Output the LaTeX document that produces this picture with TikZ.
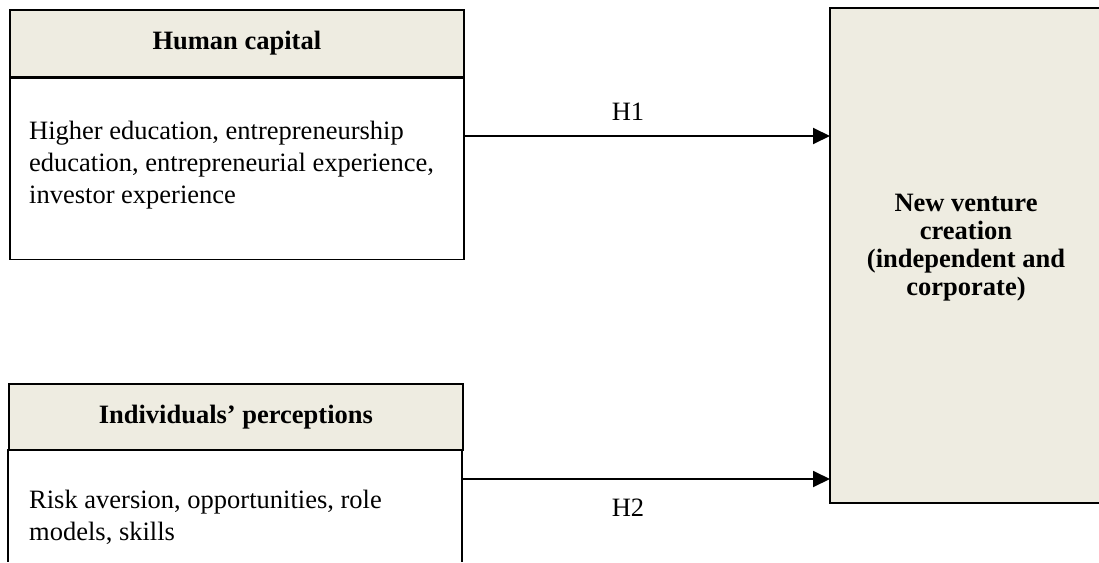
\documentclass[tikz,border=0pt]{standalone}
\usepackage{fontspec}
\setmainfont{Liberation Serif}
\usetikzlibrary{arrows.meta,calc}
\definecolor{panel}{HTML}{EEECE1}
\begin{document}
\begin{tikzpicture}[x=1pt,y=-1pt,
  frame/.style={draw=black,line width=1.7pt},
  hdrbox/.style={frame,fill=panel,anchor=north west,inner sep=0pt,
    font=\fontsize{26.5}{28}\selectfont\bfseries},
  bodytext/.style={anchor=west,align=left,inner sep=0pt,
    font=\fontsize{26.5}{32}\selectfont},
  arr/.style={line width=1.9pt,-{Triangle[length=17pt,width=16pt]}},
  lbl/.style={font=\fontsize{26.5}{28}\selectfont,inner sep=0pt}]
\useasboundingbox (0,0) rectangle (1099,562);

% outcome panel, open on the right
\fill[panel] (830,8) rectangle (1099,503);
\draw[frame] (1099,8) -- (830,8) -- (830,503) -- (1099,503);
\node[inner sep=0pt,align=center,font=\fontsize{26.5}{28}\selectfont\bfseries]
  (nv) at (966,248) {New venture\\creation\\(independent and\\corporate)};
\coordinate (nvw) at (830,255);

% human capital box
\node[hdrbox,minimum width=454pt,minimum height=67pt] (hcH) at (9,9) {Human capital};
\node[frame,anchor=north west,minimum width=454pt,minimum height=181pt,inner sep=0pt]
  (hcB) at (hcH.south west) {};
\node[bodytext] (hcT) at (29,165)
  {Higher education, entrepreneurship\\education, entrepreneurial experience,\\investor experience};

% perceptions box, running off the bottom edge
\node[hdrbox,minimum width=454pt,minimum height=66pt] (ipH) at (8,383) {Individuals’ perceptions};
\coordinate (ipB) at (8,449);
\draw[frame] (8,449) -- (8,562) (462,449) -- (462,562);
\node[bodytext] (ipT) at (29,517) {Risk aversion, opportunities, role\\models, skills};

% hypotheses
\coordinate (h1s) at (463,136);
\coordinate (h2s) at (462,479);
\draw[arr] (h1s) -- (nvw |- h1s);
\draw[arr] (h2s) -- (nvw |- h2s);
\node[lbl] (h1) at (628,112) {H1};
\node[lbl] (h2) at (628,508) {H2};
\end{tikzpicture}
\end{document}
